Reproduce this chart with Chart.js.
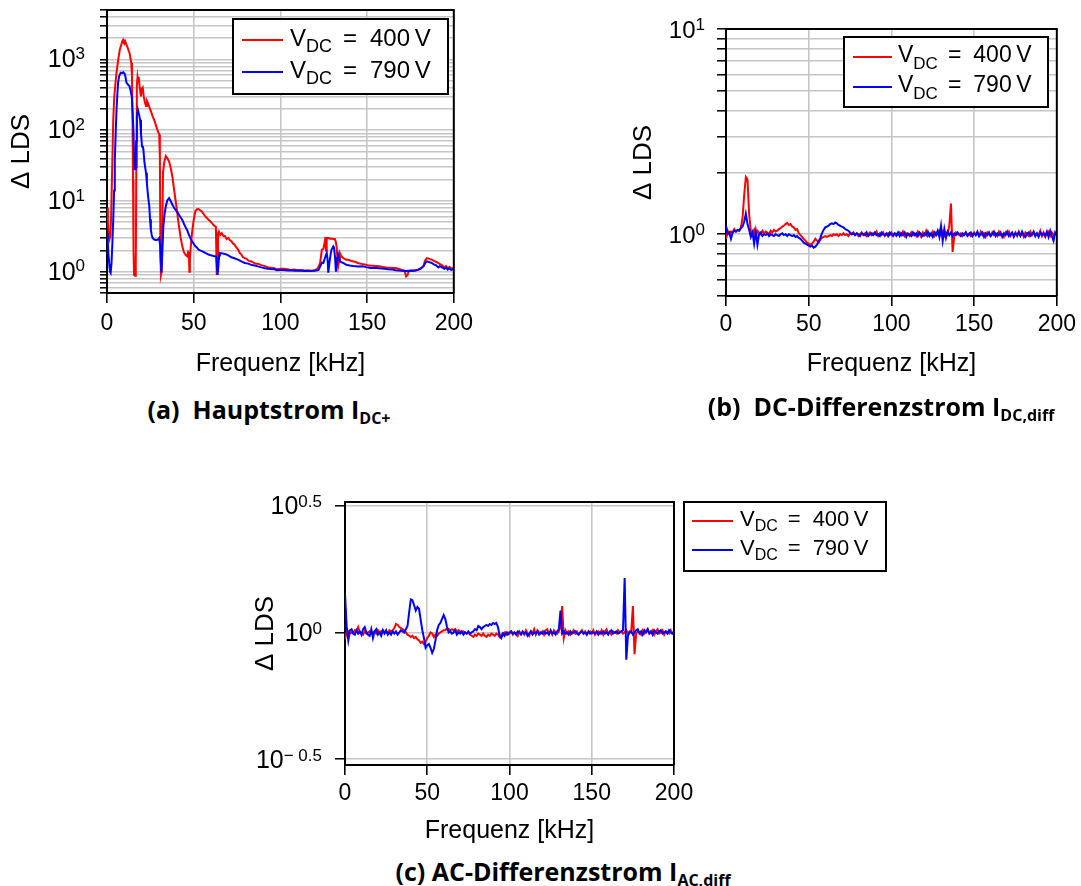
<!DOCTYPE html>
<html>
<head>
<meta charset="utf-8">
<title>Δ LDS – Frequenzgang</title>
<script src="https://cdn.jsdelivr.net/npm/chart.js@4.4.1/dist/chart.umd.min.js"></script>
<style>
  html, body { margin: 0; padding: 0; background: #fff; }
  #page { position: relative; width: 1081px; height: 886px; overflow: hidden; background: #fff; }
  canvas { position: absolute; }
  .cap {
    position: absolute; transform: translate(-50%, -50%);
    font-family: "Open Sans", "Noto Sans", sans-serif; font-weight: 700;
    font-size: 25px; line-height: 1; white-space: pre; color: #000;
  }
  .cap .sub { font-size: 16px; position: relative; top: 5px; }
</style>
</head>
<body>
<div id="page">
  <canvas id="chartA" width="480" height="390" style="left:0px;top:0px;width:480px;height:390px"></canvas>
  <canvas id="chartB" width="461" height="390" style="left:620px;top:0px;width:461px;height:390px"></canvas>
  <canvas id="chartC" width="670" height="360" style="left:230px;top:490px;width:670px;height:360px"></canvas>
  <div class="cap" style="left:269px;top:409px">(a)  Hauptstrom I<span class="sub">DC+</span></div>
  <div class="cap" style="left:881px;top:406px">(b)  DC-Differenzstrom I<span class="sub">DC,diff</span></div>
  <div class="cap" style="left:563px;top:871px">(c) AC-Differenzstrom I<span class="sub">AC,diff</span></div>
</div>
<script>
// ---------- data ----------
const VOLTAGES = ['400', '790'];
const X_TICKS = [0, 50, 100, 150, 200];

// (a) Hauptstrom: frequency [kHz] and Δ LDS per supply voltage
const FREQ_A_400 = [
  0, 0.5, 1, 1.5, 2, 2.5, 3, 3.6, 4.2, 5,
  5.5, 6.5, 7.4, 8.2, 8.8, 9.3, 9.8, 10.3, 11.2, 12,
  12.6, 13, 13.5, 14, 14.4, 14.7, 15, 15.3, 15.6, 16.2,
  16.6, 16.9, 17.2, 17.6, 18, 18.3, 18.8, 19.3, 19.6, 20,
  20.6, 21.2, 21.8, 22.5, 23, 23.5, 24.5, 25.5, 26.3, 27.2,
  28.2, 29.1, 30.1, 30.5, 30.8, 31.1, 31.5, 31.9, 32.3, 33,
  33.9, 34.8, 35.8, 36.8, 37.7, 38.6, 39.5, 40.5, 41.5, 42.5,
  43.4, 44.3, 45.2, 46.2, 46.8, 47.2, 47.5, 47.8, 48.2, 49,
  50, 50.9, 51.8, 52.8, 53.7, 54.7, 55.6, 56.6, 57.5, 58.5,
  59.4, 60.4, 61.3, 62.3, 62.8, 63.1, 63.3, 63.6, 64, 64.5,
  65.3, 66.2, 67.1, 68, 69, 69.9, 70.8, 71.7, 72.7, 73.6,
  74.6, 75.6, 76.5, 77.5, 78.4, 79.4, 80.4, 81.3, 82.3, 83.2,
  84.2, 85.1, 86.1, 87, 89, 91, 92.5, 94.5, 96.5, 98,
  100, 102, 104, 106, 108, 110, 112, 114, 116, 118,
  120, 121.5, 122.9, 123.9, 124.8, 125.5, 126, 126.3, 126.7, 127.5,
  128.6, 129.5, 130.5, 131.4, 132, 132.4, 132.9, 133.3, 133.8, 134.3,
  135.2, 136.2, 137, 138, 139, 141, 143, 145, 147.5, 149.4,
  151, 153, 155, 157, 159, 161, 163, 164.6, 166.5, 168,
  170, 171.5, 172.5, 173.3, 174, 175.5, 177.8, 179.5, 181, 182.5,
  183.5, 184.5, 186, 187.5, 189.2, 190.5, 192, 193, 194.5, 195.5,
  196.5, 197.5, 198.5, 199.6, 200
];
const LDS_A_400 = [
  8, 5, 3.5, 2.9, 3.2, 8, 30, 140, 300, 500,
  650, 1000, 1380, 1600, 1800, 1900, 1780, 1850, 1620, 1450,
  1300, 1240, 1050, 890, 600, 150, 20, 2, 0.9, 0.88,
  1.2, 30, 420, 560, 480, 570, 420, 330, 300, 380,
  400, 300, 250, 220, 260, 245, 210, 180, 158, 140,
  118, 100, 87, 40, 2, 0.9, 1.0, 4, 25, 35,
  43, 40, 36, 29, 22, 15, 10.4, 6.8, 4.4, 3.0,
  2.3, 1.9, 1.74, 1.65, 1.9, 1.84, 1.0, 1.5, 2.1, 3.5,
  5.4, 7.1, 7.6, 7.7, 7.4, 7.1, 6.6, 6.1, 5.8, 5.4,
  5.2, 4.9, 4.6, 4.4, 4.3, 1.5, 0.9, 1.6, 3.5, 3.7,
  3.3, 3.5, 3.2, 3.2, 2.9, 3.0, 2.8, 2.7, 2.5, 2.4,
  2.2, 2.05, 1.85, 1.75, 1.6, 1.56, 1.52, 1.45, 1.4, 1.4,
  1.35, 1.32, 1.3, 1.3, 1.24, 1.2, 1.16, 1.14, 1.12, 1.08,
  1.1, 1.1, 1.08, 1.06, 1.07, 1.05, 1.06, 1.04, 1.04, 1.03,
  1.06, 1.1, 1.33, 2.05, 2.1, 2.6, 3.1, 2.0, 3.0, 3.0,
  2.93, 2.95, 2.9, 2.9, 2.6, 2.28, 1.5, 1.19, 1.4, 1.84,
  1.65, 1.56, 1.52, 1.48, 1.48, 1.42, 1.38, 1.32, 1.28, 1.25,
  1.22, 1.21, 1.2, 1.19, 1.17, 1.15, 1.14, 1.13, 1.13, 1.1,
  1.06, 1.04, 0.86, 0.9, 1.02, 1.05, 1.04, 1.08, 1.12, 1.2,
  1.45, 1.56, 1.52, 1.47, 1.4, 1.35, 1.28, 1.25, 1.15, 1.2,
  1.12, 1.17, 1.1, 1.13, 1.12
];
const FREQ_A_790 = [
  0, 0.5, 0.8, 1.3, 1.7, 2.1, 2.6, 3.1, 3.6, 4.1,
  4.5, 5, 5.5, 6, 6.4, 7, 7.9, 8.6, 9.4, 10.2,
  10.7, 11.2, 11.8, 12.4, 13, 13.6, 14.3, 14.8, 15.3, 15.6,
  15.9, 16.5, 16.8, 17.2, 17.8, 18.4, 19.1, 19.6, 20.2, 20.6,
  21, 21.6, 22, 22.5, 23, 23.5, 24, 24.4, 24.8, 25.3,
  25.8, 26.3, 27.2, 28.2, 29.1, 30.1, 30.6, 31, 31.4, 31.8,
  32.5, 33.2, 33.9, 34.8, 35.8, 36.7, 37.7, 38.6, 39.5, 40.5,
  41.5, 42.4, 43.4, 44.3, 45.2, 46.2, 47.1, 48, 49, 49.9,
  50.9, 51.8, 52.8, 53.7, 54.7, 55.6, 56.6, 57.5, 58.5, 59.4,
  60.4, 61.3, 62.3, 63, 63.5, 63.8, 64.2, 64.7, 65.1, 66,
  67, 68, 69, 70, 71.7, 73.5, 75.5, 77.5, 79.4, 81.5,
  83.5, 85.2, 87, 89, 91, 93, 94.5, 96.5, 98, 100,
  102, 104, 106, 108, 110, 112, 114, 116, 118, 120,
  122, 123.9, 124.8, 125.8, 126.7, 127.2, 127.6, 128.2, 129, 129.5,
  130.5, 130.9, 131.5, 132, 132.5, 133.3, 134.3, 135.2, 136.2, 138,
  140, 142, 145, 147.5, 149.4, 152, 155, 157, 160, 162,
  164.6, 166.5, 168, 170, 172, 174, 176, 177.8, 179.5, 181,
  182.5, 183.5, 184.5, 186, 187, 188.5, 190, 191, 192, 193,
  194.5, 195.5, 196.5, 197.5, 198.5, 199.6, 200
];
const LDS_A_790 = [
  3.5, 2.6, 1.84, 1.3, 1.0, 0.96, 1.3, 2.5, 5.4, 14,
  38, 90, 195, 330, 470, 580, 650, 640, 660, 630,
  560, 470, 450, 430, 420, 360, 300, 170, 93, 40,
  28, 28, 70, 158, 195, 170, 140, 90, 59, 60,
  53, 35, 30, 25, 18, 13, 10, 8.4, 5.5, 3.9,
  3.3, 3.0, 2.85, 2.8, 2.82, 3.0, 2.4, 1.4, 0.97, 1.6,
  4.4, 6.5, 8.4, 10.2, 11, 10, 8.9, 8.1, 7.5, 7.0,
  6.4, 5.9, 5.4, 4.8, 4.3, 3.9, 3.4, 3.0, 2.7, 2.5,
  2.3, 2.2, 2.05, 2.0, 1.95, 1.9, 1.84, 1.8, 1.75, 1.72,
  1.7, 1.67, 1.65, 1.62, 1.1, 0.9, 1.2, 1.7, 1.84, 1.82,
  1.8, 1.78, 1.74, 1.7, 1.6, 1.55, 1.48, 1.4, 1.33, 1.3,
  1.24, 1.22, 1.19, 1.15, 1.12, 1.1, 1.09, 1.08, 1.05, 1.06,
  1.06, 1.04, 1.05, 1.03, 1.04, 1.03, 1.02, 1.03, 1.02, 1.03,
  1.06, 1.34, 1.33, 1.6, 1.84, 1.5, 0.97, 1.3, 1.8, 2.05,
  2.28, 2.2, 1.6, 1.0, 1.3, 1.74, 1.4, 1.36, 1.33, 1.25,
  1.22, 1.2, 1.18, 1.19, 1.16, 1.13, 1.13, 1.12, 1.1, 1.08,
  1.07, 1.05, 1.04, 1.03, 1.02, 1.03, 1.02, 1.04, 1.06, 1.1,
  1.2, 1.32, 1.4, 1.36, 1.34, 1.27, 1.22, 1.15, 1.2, 1.16,
  1.1, 1.14, 1.07, 1.12, 1.06, 1.08, 1.07
];

// (b), (c): common 1 kHz frequency grid
const FREQ_GRID = [
  0, 1, 2, 3, 4, 5, 6, 7, 8, 9,
  10, 11, 12, 13, 14, 15, 16, 17, 18, 19,
  20, 21, 22, 23, 24, 25, 26, 27, 28, 29,
  30, 31, 32, 33, 34, 35, 36, 37, 38, 39,
  40, 41, 42, 43, 44, 45, 46, 47, 48, 49,
  50, 51, 52, 53, 54, 55, 56, 57, 58, 59,
  60, 61, 62, 63, 64, 65, 66, 67, 68, 69,
  70, 71, 72, 73, 74, 75, 76, 77, 78, 79,
  80, 81, 82, 83, 84, 85, 86, 87, 88, 89,
  90, 91, 92, 93, 94, 95, 96, 97, 98, 99,
  100, 101, 102, 103, 104, 105, 106, 107, 108, 109,
  110, 111, 112, 113, 114, 115, 116, 117, 118, 119,
  120, 121, 122, 123, 124, 125, 126, 127, 128, 129,
  130, 131, 132, 133, 134, 135, 136, 137, 138, 139,
  140, 141, 142, 143, 144, 145, 146, 147, 148, 149,
  150, 151, 152, 153, 154, 155, 156, 157, 158, 159,
  160, 161, 162, 163, 164, 165, 166, 167, 168, 169,
  170, 171, 172, 173, 174, 175, 176, 177, 178, 179,
  180, 181, 182, 183, 184, 185, 186, 187, 188, 189,
  190, 191, 192, 193, 194, 195, 196, 197, 198, 199,
  200
];

// (b) DC-Differenzstrom
const LDS_B_400 = [
  0.95, 1.04, 1.0, 1.03, 1.02, 1.06, 1.03, 1.05, 1.04, 1.08,
  1.2, 1.55, 1.9, 1.85, 1.25, 1.04, 1.0, 1.05, 0.97, 1.04,
  1.02, 1.0, 1.04, 1.01, 1.03, 1.02, 1.0, 1.04, 1.02, 1.05,
  1.03, 1.04, 1.06, 1.07, 1.09, 1.1, 1.12, 1.135, 1.11, 1.12,
  1.09, 1.08, 1.05, 1.06, 1.01, 0.99, 0.97, 0.95, 0.93, 0.91,
  0.9, 0.89, 0.9, 0.92, 0.95, 0.93, 0.91, 0.94, 0.96, 0.97,
  0.98, 0.97, 0.98, 0.99, 0.98, 1.0, 0.99, 1.0, 0.98, 1.0,
  0.99, 1.01, 0.99, 1.0, 0.98, 1.01, 1.0, 1.02, 0.99, 1.01,
  0.98, 1.0, 1.02, 0.99, 1.01, 0.98, 1.0, 1.02, 0.99, 1.01,
  1.0, 1.03, 0.98, 1.01, 0.99, 1.02, 0.98, 1.0, 1.01, 0.99,
  1.02, 0.99, 1.01, 0.98, 1.0, 1.02, 0.99, 1.03, 0.98, 1.01,
  1.0, 0.98, 1.02, 0.99, 1.01, 0.98, 1.03, 1.0, 0.97, 1.02,
  0.99, 1.04, 0.98, 1.01, 0.99, 1.03, 0.98, 1.02, 1.0, 1.04,
  0.99, 1.03, 0.98, 1.02, 1.0, 1.1, 1.41, 0.82, 0.98, 1.02,
  1.0, 0.99, 1.01, 0.98, 1.0, 1.02, 0.99, 1.01, 0.98, 1.0,
  1.02, 0.99, 1.01, 0.98, 1.03, 0.99, 1.01, 0.97, 1.02, 1.0,
  0.98, 1.02, 0.99, 1.01, 0.98, 1.03, 0.99, 1.0, 0.97, 1.02,
  1.0, 1.03, 0.98, 1.01, 0.99, 1.02, 0.98, 1.03, 0.99, 1.01,
  0.97, 1.02, 1.0, 0.98, 1.03, 0.99, 1.02, 0.98, 1.01, 0.99,
  1.04, 0.98, 1.02, 0.97, 1.01, 1.03, 0.98, 1.02, 0.99, 1.01,
  1.0
];
const LDS_B_790 = [
  1.1, 1.0, 1.02, 0.95, 1.02, 1.04, 1.03, 1.05, 1.04, 1.07,
  1.09, 1.15, 1.26, 1.12, 1.05, 0.97, 1.02, 0.9, 1.03, 0.89,
  1.0, 1.02, 0.98, 1.0, 0.99, 1.01, 0.98, 1.0, 0.99, 0.98,
  1.0, 0.99, 0.98, 1.0, 1.01, 0.99, 1.0, 0.98, 1.0, 0.99,
  0.98, 0.99, 0.97, 0.98, 0.96, 0.95, 0.93, 0.91, 0.9, 0.89,
  0.88, 0.87, 0.88, 0.86, 0.87, 0.89, 0.92, 0.96, 1.01, 1.05,
  1.08, 1.09, 1.1, 1.12, 1.13, 1.12, 1.14, 1.13, 1.11, 1.1,
  1.09, 1.08, 1.06, 1.05, 1.04, 1.02, 1.0, 1.01, 0.99, 1.01,
  1.0, 0.98, 1.01, 1.0, 0.99, 1.02, 0.98, 1.0, 1.01, 0.99,
  1.02, 0.99, 1.0, 0.98, 1.02, 1.0, 0.99, 1.01, 0.98, 1.02,
  1.0, 0.98, 1.01, 0.99, 1.02, 0.98, 1.01, 0.99, 1.02, 0.97,
  1.01, 1.0, 0.98, 1.02, 0.99, 1.01, 0.98, 1.02, 1.0, 0.98,
  1.01, 0.99, 1.03, 0.98, 1.01, 0.97, 1.02, 0.99, 1.04, 0.97,
  1.1, 0.93, 1.06, 0.96, 1.03, 0.99, 1.02, 0.98, 1.01, 0.99,
  1.02, 1.0, 0.98, 1.01, 0.99, 1.02, 0.98, 1.0, 1.02, 0.98,
  1.01, 0.99, 1.03, 0.98, 1.0, 1.02, 0.97, 1.01, 0.99, 1.02,
  0.98, 1.0, 1.03, 0.98, 1.01, 0.99, 1.02, 0.97, 1.01, 0.99,
  1.03, 0.98, 1.0, 1.02, 0.97, 1.01, 0.99, 1.02, 0.98, 1.03,
  0.99, 0.97, 1.01, 1.02, 0.98, 1.0, 1.03, 0.98, 1.01, 0.97,
  1.02, 0.99, 1.01, 0.98, 1.03, 0.97, 1.04, 0.98, 0.93, 1.02,
  0.99
];

// (c) AC-Differenzstrom
const LDS_C_400 = [
  0.94, 1.0, 1.01, 0.99, 1.0, 0.99, 1.02, 1.01, 1.05, 1.0,
  0.99, 0.98, 1.01, 0.99, 1.0, 1.01, 0.99, 1.0, 1.01, 0.99,
  1.02, 1.0, 1.01, 1.02, 1.0, 1.01, 0.99, 1.02, 1.01, 1.02,
  1.04, 1.08, 1.07, 1.05, 1.04, 1.03, 1.02, 1.0, 0.98, 0.97,
  0.96, 0.97, 0.95, 0.96, 0.94, 0.93, 0.91, 0.92, 0.9, 0.92,
  0.95, 0.97, 1.0, 0.99, 0.96, 0.98, 0.97, 0.99, 1.0, 1.01,
  1.02, 1.02, 1.04, 1.03, 1.02, 1.03, 1.02, 1.03, 1.01, 1.02,
  1.01, 1.0, 1.01, 1.0, 0.99, 1.0, 0.98, 0.97, 0.96, 0.98,
  0.97, 0.99, 0.98, 0.97, 0.99, 0.97, 0.96, 0.98, 0.97, 0.99,
  0.98, 0.97, 0.99, 0.98, 0.96, 0.98, 0.99, 1.0, 0.98, 1.0,
  0.99, 1.01, 0.98, 1.0, 0.99, 0.97, 1.01, 0.99, 1.0, 0.98,
  1.02, 0.99, 0.97, 1.01, 0.99, 1.03, 0.98, 1.02, 1.0, 0.99,
  1.01, 0.98, 1.02, 1.03, 0.99, 1.01, 0.98, 1.02, 1.0, 0.99,
  1.01, 1.05, 1.27, 0.95, 1.02, 0.99, 1.01, 0.98, 1.0, 1.02,
  0.99, 1.01, 0.98, 1.0, 1.02, 0.99, 1.01, 0.98, 1.0, 1.01,
  0.99, 1.02, 0.98, 1.0, 1.01, 0.99, 1.02, 0.98, 1.01, 1.03,
  0.99, 1.0, 0.98, 1.01, 1.0, 0.99, 1.02, 1.0, 1.01, 0.99,
  1.0, 1.02, 0.99, 1.01, 1.0, 1.27, 0.82, 0.99, 1.01, 1.0,
  0.98, 1.02, 0.99, 1.01, 1.03, 0.99, 1.0, 1.02, 0.98, 1.01,
  1.03, 0.99, 1.0, 1.02, 0.98, 1.01, 1.0, 0.99, 1.02, 0.99,
  1.0
];
const LDS_C_790 = [
  1.43, 1.06, 0.93, 1.02, 1.03, 0.99, 0.98, 1.02, 0.99, 1.01,
  0.98, 1.03, 1.05, 1.0, 0.98, 0.97, 1.03, 0.95, 1.01, 1.03,
  0.98, 1.0, 0.97, 1.02, 0.99, 1.02, 0.98, 1.0, 0.98, 1.01,
  0.99, 1.01, 0.98, 1.0, 1.02, 1.01, 1.0, 1.03, 1.06, 1.2,
  1.35, 1.34, 1.28, 1.22, 1.26, 1.24, 1.12, 1.02, 0.95, 0.87,
  0.89, 0.9, 0.87, 0.83, 0.86, 0.93, 1.02, 1.07, 1.09, 1.13,
  1.17, 1.13, 1.05, 1.0, 1.01, 0.99, 1.0, 1.02, 0.98, 1.0,
  0.99, 1.01, 0.98, 1.0, 0.99, 1.01, 0.99, 1.0, 1.01, 1.03,
  1.02, 1.06, 1.05, 1.03, 1.05, 1.06, 1.07, 1.06, 1.08, 1.07,
  1.09, 1.08, 1.09, 1.05, 0.97, 0.95, 0.99, 0.97, 1.0, 0.98,
  1.0, 1.01, 0.99, 1.0, 0.98, 1.01, 1.0, 0.98, 1.01, 0.99,
  1.0, 0.97, 0.99, 1.01, 0.98, 1.0, 0.99, 1.01, 0.98, 1.0,
  0.99, 1.01, 0.99, 1.0, 0.98, 1.02, 0.99, 1.0, 0.98, 1.01,
  1.03, 1.22, 0.99, 1.01, 0.99, 1.0, 0.98, 1.01, 0.99, 1.0,
  1.01, 0.99, 0.98, 1.0, 1.01, 0.99, 1.0, 0.98, 1.01, 0.99,
  1.0, 1.0, 0.99, 1.01, 0.98, 1.0, 0.99, 1.01, 0.99, 1.0,
  0.98, 1.01, 1.02, 0.99, 1.0, 1.01, 0.99, 1.0, 1.01, 1.02,
  1.64, 0.78, 0.97, 1.0, 1.01, 0.98, 1.0, 1.02, 1.03, 0.99,
  1.01, 0.98, 1.02, 1.0, 1.03, 0.99, 1.01, 0.98, 1.02, 1.0,
  0.99, 1.01, 1.02, 0.99, 1.0, 1.01, 0.99, 1.02, 1.0, 0.99,
  1.01
];

// log-axis grid values and the decades that carry a label
const GRID_A = [0.5, 0.6, 0.7, 0.8, 0.9, 1, 2, 3, 4, 5, 6, 7, 8, 9,
  10, 20, 30, 40, 50, 60, 70, 80, 90, 100, 200, 300, 400, 500, 600, 700, 800, 900,
  1000, 2000, 3000, 4000, 5000];
const GRID_B = [0.5, 0.6, 0.7, 0.8, 0.9, 1, 2, 3, 4, 5, 6, 7, 8, 9, 10];
const GRID_C = [0.316228, 1, 3.162278];
const DECADES_A = [1, 10, 100, 1000];
const EXPONENTS_A = ['0', '1', '2', '3'];
const DECADES_B = [1, 10];
const EXPONENTS_B = ['0', '1'];
const DECADES_C = [0.316228, 1, 3.162278];
const EXPONENTS_C = ['\u2212 0.5', '0', '0.5'];

// ---------- drawing helpers ----------
const FONT = '"Liberation Sans", Arial, Helvetica, sans-serif';
const GRID_COLOR = '#c6c6c6';
const RED = '#ff0000';
const BLUE = '#0000ff';

Chart.defaults.font.family = FONT;
Chart.defaults.color = '#000';

function points(freq, vals) {
  return freq.map((f, i) => ({ x: f, y: vals[i] }));
}

// "10" with a raised exponent next to each labelled decade of the y scale
const powerLabels = {
  id: 'powerLabels',
  afterDraw(chart, args, o) {
    const s = chart.scales.y, ctx = chart.ctx;
    const right = chart.chartArea.left - o.gap;
    ctx.save();
    ctx.fillStyle = '#000';
    ctx.textBaseline = 'middle';
    ctx.textAlign = 'right';
    o.values.forEach((v, i) => {
      const y = s.getPixelForValue(v);
      ctx.font = o.expSize + 'px ' + FONT;
      const ew = ctx.measureText(o.exps[i]).width;
      ctx.fillText(o.exps[i], right, y + o.expDy);
      ctx.font = o.size + 'px ' + FONT;
      ctx.fillText('10', right - ew, y + o.baseDy);
    });
    ctx.restore();
  }
};

// closes the plot box on the top and right side
const plotFrame = {
  id: 'plotFrame',
  afterDraw(chart) {
    const { left, right, top, bottom } = chart.chartArea, ctx = chart.ctx;
    ctx.save();
    ctx.strokeStyle = '#000';
    ctx.lineWidth = 2;
    ctx.beginPath();
    ctx.moveTo(left, top);
    ctx.lineTo(right, top);
    ctx.lineTo(right, bottom);
    ctx.stroke();
    ctx.restore();
  }
};

// boxed legend "V_DC = xxx V"
const voltLegend = {
  id: 'voltLegend',
  afterDraw(chart, args, o) {
    const ctx = chart.ctx;
    const [x1, y1, x2, y2] = o.box;
    ctx.save();
    ctx.fillStyle = '#fff';
    ctx.fillRect(x1, y1, x2 - x1, y2 - y1);
    ctx.strokeStyle = '#000';
    ctx.lineWidth = 2;
    ctx.strokeRect(x1, y1, x2 - x1, y2 - y1);
    chart.data.datasets.forEach((ds, i) => {
      const y = o.rows[i];
      ctx.strokeStyle = ds.borderColor;
      ctx.lineWidth = 2;
      ctx.beginPath();
      ctx.moveTo(o.line[0], y);
      ctx.lineTo(o.line[1], y);
      ctx.stroke();
      ctx.fillStyle = '#000';
      ctx.textBaseline = 'middle';
      ctx.textAlign = 'left';
      let x = o.textX;
      ctx.font = o.size + 'px ' + FONT;
      ctx.fillText('V', x, y + o.dy);
      x += ctx.measureText('V').width;
      ctx.font = o.subSize + 'px ' + FONT;
      ctx.fillText('DC', x, y + o.dy + o.subDy);
      x += ctx.measureText('DC').width + o.eqGap;
      ctx.font = o.size + 'px ' + FONT;
      ctx.fillText('=', x, y + o.dy);
      x += ctx.measureText('=').width + o.valGap;
      ctx.fillText(VOLTAGES[i] + '\u2009V', x, y + o.dy);
    });
    ctx.restore();
  }
};

function makeChart(id, c) {
  return new Chart(document.getElementById(id), {
    type: 'line',
    data: {
      datasets: [
        { label: 'VDC = ' + VOLTAGES[0] + ' V', data: points(c.f400, c.v400),
          borderColor: RED, borderWidth: 2, pointRadius: 0, fill: false, order: 1 },
        { label: 'VDC = ' + VOLTAGES[1] + ' V', data: points(c.f790, c.v790),
          borderColor: BLUE, borderWidth: 2, pointRadius: 0, fill: false, order: 0 }
      ]
    },
    options: {
      responsive: false,
      animation: false,
      events: [],
      layout: { padding: c.padding },
      plugins: {
        legend: { display: false },
        tooltip: { enabled: false },
        powerLabels: c.labels,
        voltLegend: c.legend
      },
      scales: {
        x: {
          type: 'linear', min: 0, max: 200,
          afterBuildTicks: s => { s.ticks = X_TICKS.map(v => ({ value: v })); },
          afterFit: s => { s.height = c.xHeight; },
          grid: { color: GRID_COLOR, lineWidth: 1.6, tickColor: '#000', tickLength: 10, tickWidth: 1.6 },
          border: { color: '#000', width: 2 },
          ticks: { color: '#000', font: { size: 23 }, padding: c.xPad, maxRotation: 0, autoSkip: false },
          title: { display: true, text: 'Frequenz [kHz]', color: '#000', font: { size: 25 }, padding: 0 }
        },
        y: {
          type: 'logarithmic', min: c.min, max: c.max,
          afterBuildTicks: s => { s.ticks = c.grid.map(v => ({ value: v })); },
          afterFit: s => { s.width = c.yWidth; },
          grid: { color: GRID_COLOR, lineWidth: c.gridWidth, tickColor: '#000', tickLength: c.yTick, tickWidth: 1.5 },
          border: { color: '#000', width: 2 },
          ticks: { display: false },
          title: { display: true, text: 'Δ LDS', color: '#000', font: { size: 26 },
                   padding: { top: c.yTitlePad, bottom: 0 } }
        }
      }
    },
    plugins: [powerLabels, plotFrame, voltLegend]
  });
}

// (a) Hauptstrom I_DC+
makeChart('chartA', {
  f400: FREQ_A_400, v400: LDS_A_400, f790: FREQ_A_790, v790: LDS_A_790,
  min: 0.5, max: 5000, grid: GRID_A, gridWidth: 1.6,
  padding: { left: 0, top: 10, right: 21, bottom: 11 },
  xHeight: 86, yWidth: 107, yTick: 7, xPad: 7, yTitlePad: 6,
  labels: { values: DECADES_A, exps: EXPONENTS_A, size: 25, expSize: 17, gap: 22, baseDy: 1, expDy: -5 },
  legend: { box: [233, 19, 448, 94], rows: [40, 72], line: [242, 283], textX: 290,
            size: 24, subSize: 18, dy: -1, subDy: 8, eqGap: 11, valGap: 13 }
});

// (b) DC-Differenzstrom I_DC,diff
makeChart('chartB', {
  f400: FREQ_GRID, v400: LDS_B_400, f790: FREQ_GRID, v790: LDS_B_790,
  min: 0.5, max: 10, grid: GRID_B, gridWidth: 1.6,
  padding: { left: 0, top: 29, right: 22, bottom: 11 },
  xHeight: 83, yWidth: 106, yTick: 9, xPad: 5, yTitlePad: 8,
  labels: { values: DECADES_B, exps: EXPONENTS_B, size: 24, expSize: 17, gap: 21, baseDy: 2, expDy: -4 },
  legend: { box: [224, 37, 428, 107], rows: [57, 87], line: [233, 272], textX: 278,
            size: 23, subSize: 17, dy: -1, subDy: 8, eqGap: 10, valGap: 12 }
});

// (c) AC-Differenzstrom I_AC,diff
makeChart('chartC', {
  f400: FREQ_GRID, v400: LDS_C_400, f790: FREQ_GRID, v790: LDS_C_790,
  min: 0.302, max: 3.27, grid: GRID_C, gridWidth: 1.6,
  padding: { left: 0, top: 12, right: 226, bottom: 4 },
  xHeight: 81, yWidth: 115, yTick: 10, xPad: 5, yTitlePad: 20,
  labels: { values: DECADES_C, exps: EXPONENTS_C, size: 25, expSize: 17, gap: 23, baseDy: 1.5, expDy: -3 },
  legend: { box: [454, 12, 656, 81], rows: [31, 60], line: [462, 503], textX: 510,
            size: 22, subSize: 16, dy: -1, subDy: 7, eqGap: 10, valGap: 12 }
});
</script>
</body>
</html>
